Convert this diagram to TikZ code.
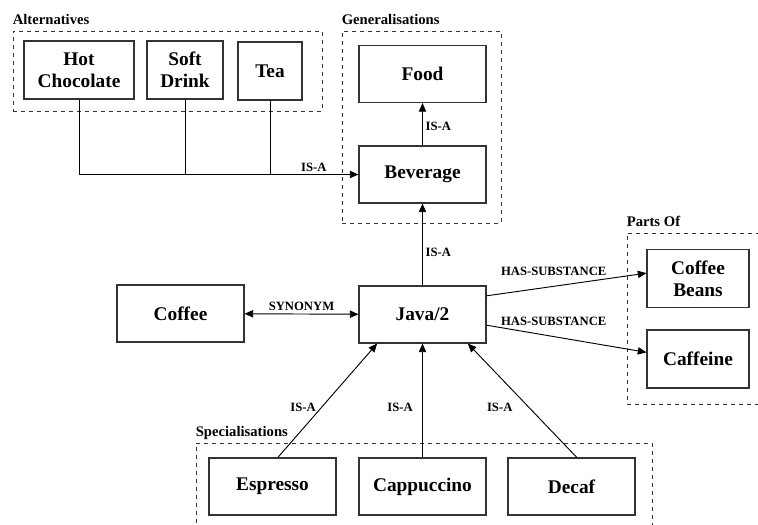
\documentclass[tikz,border=0pt]{standalone}
\usepackage{fontspec}
\setmainfont{Liberation Serif}
\usetikzlibrary{arrows.meta,positioning}

\begin{document}
\begin{tikzpicture}[x=0.75pt,y=-0.75pt,
  concept/.style={draw=black!80,line width=0.8pt,align=center,
    font=\bfseries\fontsize{14.5}{16.5}\selectfont,
    minimum width=95.25pt,minimum height=42.75pt,inner sep=2pt},
  group/.style={draw=black!80,dashed,line width=0.7pt,inner sep=0pt},
  grouplabel/.style={font=\bfseries\fontsize{11}{12}\selectfont,anchor=base west,inner sep=0pt},
  rel/.style={font=\bfseries\fontsize{9.5}{10}\selectfont,inner sep=2pt},
  wire/.style={line width=0.7pt},
  link/.style={wire,-{Triangle[length=6.5pt,width=5.5pt]}},
  twoway/.style={wire,{Triangle[length=6.5pt,width=5.5pt]}-{Triangle[length=6.5pt,width=5.5pt]}}]
\useasboundingbox (0,0) rectangle (758,525);

% groups
\node[group,minimum width=231.75pt,minimum height=60pt] (alt) at (167.5,71) {};
\node[group,minimum width=119.25pt,minimum height=144pt] (gen) at (421.5,127) {};
\node[group,minimum width=99.75pt,minimum height=128.25pt] (parts) at (693.5,318.5) {};
\node[group,minimum width=342pt,minimum height=63pt] (spec) at (424,485) {};
\node[grouplabel] (altlbl) at ([yshift=4.5pt]alt.north west) {Alternatives};
\node[grouplabel] (genlbl) at ([yshift=4.5pt]gen.north west) {Generalisations};
\node[grouplabel] (partslbl) at ([yshift=4.5pt]parts.north west) {Parts Of};
\node[grouplabel] (speclbl) at ([yshift=4.5pt]spec.north west) {Specialisations};

% concepts
\node[concept,minimum width=82.5pt,minimum height=43.5pt] (hotchoc) at (79,70) {Hot\\Chocolate};
\node[concept,minimum width=57pt,minimum height=43.5pt] (softdrink) at (185,70) {Soft\\Drink};
\node[concept,minimum width=48pt,minimum height=43.5pt] (tea) at (270,71) {Tea};
\node[concept] (food) at (422.5,74) {Food};
\node[concept] (beverage) at (422.5,174.5) {Beverage};
\node[concept] (java) at (422.5,314.5) {Java/2};
\node[concept] (coffee) at (180.5,313.5) {Coffee};
\node[concept,minimum width=76.5pt,minimum height=44pt] (beans) at (698,278.5) {Coffee\\Beans};
\node[concept,minimum width=76.5pt,minimum height=43.5pt] (caffeine) at (698,359) {Caffeine};
\node[concept] (espresso) at (272.5,486.5) {Espresso};
\node[concept] (cappuccino) at (422.5,486.5) {Cappuccino};
\node[concept] (decaf) at (571.5,486.5) {Decaf};

% relations
\draw[link] (hotchoc.south) |- node[rel,above,pos=0.92] {IS-A} (beverage.west);
\draw[wire] (softdrink.south) -- (softdrink.south |- beverage.west);
\draw[wire] (tea.south) -- (tea.south |- beverage.west);
\draw[link] (beverage) -- node[rel,right,pos=0.45] {IS-A} (food);
\draw[link] (java) -- node[rel,right,pos=0.4] {IS-A} (beverage);
\draw[twoway] (coffee) -- node[rel,above] {SYNONYM} (java);
\draw[link] ([yshift=14pt]java.east) -- node[rel,above=6pt,pos=0.42] {HAS-SUBSTANCE} ([yshift=4pt]beans.west);
\draw[link] ([yshift=-8pt]java.east) -- node[rel,above=6pt,pos=0.42] {HAS-SUBSTANCE} ([yshift=5pt]caffeine.west);
\draw[link] ([xshift=4pt]espresso.north) -- node[rel,left=2pt,pos=0.44] {IS-A} ([xshift=-34pt]java.south);
\draw[link] (cappuccino) -- node[rel,left=5pt,pos=0.44] {IS-A} (java);
\draw[link] ([xshift=4pt]decaf.north) -- node[rel,left=10pt,pos=0.44] {IS-A} ([xshift=34pt]java.south);
\end{tikzpicture}
\end{document}
